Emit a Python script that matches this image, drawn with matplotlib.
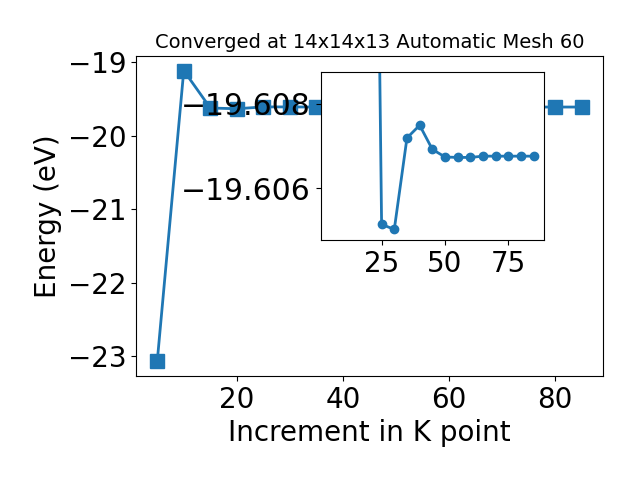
import matplotlib
matplotlib.use("Agg")
import matplotlib.pyplot as plt

kpoints = [5, 10, 15, 20, 25, 30, 35, 40, 45, 50, 55, 60, 65, 70, 75, 80, 85]
energy = [-23.07, -19.11, -19.62, -19.63, -19.60515, -19.60503, -19.60719, -19.60749,
          -19.60692, -19.60674, -19.60673, -19.60673, -19.60676, -19.60676,
          -19.60676, -19.60676, -19.60676]

fig = plt.figure(figsize=(6.4, 4.8), dpi=100)
ax = fig.add_axes([136/640, 1-376/480, (603-136)/640, (376-56)/480])
ax.plot(kpoints, energy, marker='s', markersize=10, linewidth=2, color='#1f77b4')
ax.set_xlabel('Increment in K point', fontsize=20)
ax.set_ylabel('Energy (eV)', fontsize=20)
ax.set_title('Converged at 14x14x13 Automatic Mesh 60', fontsize=14)
ax.tick_params(labelsize=20)
ax.set_yticks([-19, -20, -21, -22, -23])

ins = fig.add_axes([320.7/640, 1-240/480, (544-320.7)/640, (240-72.3)/480])
ins.plot(kpoints[2:], energy[2:], marker='o', markersize=6, linewidth=2, color='#1f77b4')
ins.set_xlim(1.0, 89.0)
ins.set_ylim(-19.60478, -19.60874)
ins.set_yticks([-19.608, -19.606])
ins.set_xticks([25, 50, 75])
ins.ticklabel_format(axis='y', useOffset=False, style='plain')
ins.tick_params(axis='x', labelsize=20)
ins.tick_params(axis='y', labelsize=21.5)

fig.savefig('out.png', dpi=100)
